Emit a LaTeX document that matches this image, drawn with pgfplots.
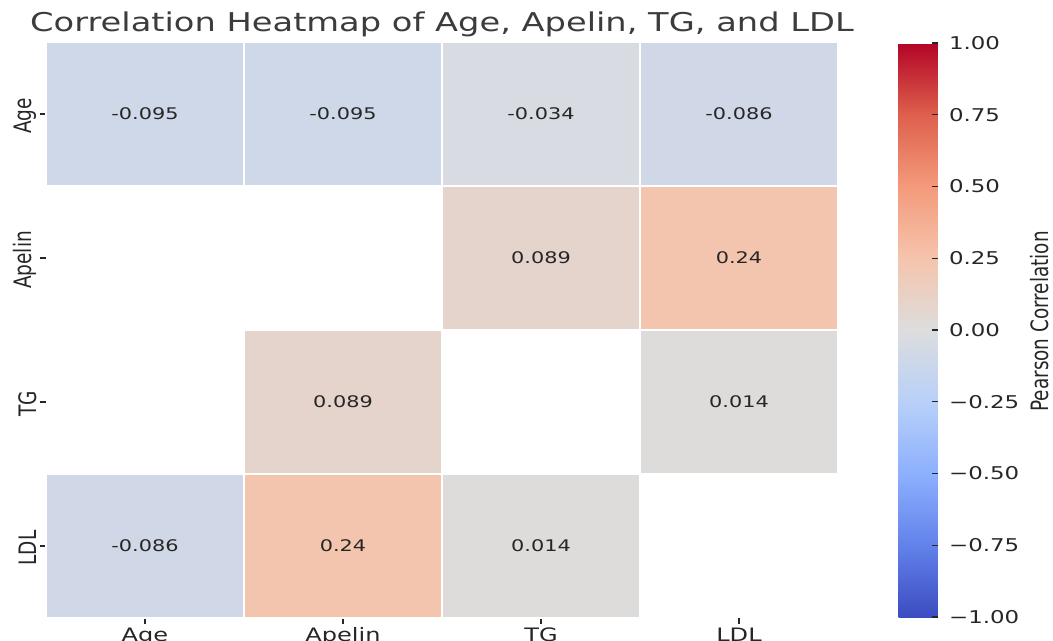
\documentclass[border=0pt]{standalone}
\usepackage{pgfplots}
\pgfplotsset{compat=1.18}
\usepackage{pgfplotstable}
\usepackage{graphicx}
\usepackage{fontspec}
\setmainfont{DejaVu Sans}[FakeStretch=1.3]
\newfontfamily\plainfont{DejaVu Sans}
\definecolor{txt}{HTML}{262626}
\pgfplotsset{colormap={coolwarm}{rgb255(0)=(59,76,192) rgb255(1)=(98,130,234) rgb255(2)=(141,176,254) rgb255(3)=(184,208,249) rgb255(4)=(221,221,221) rgb255(5)=(245,196,172) rgb255(6)=(244,154,123) rgb255(7)=(222,96,77) rgb255(8)=(180,4,38)}}

\pgfplotstableread{
x y c lbl
0 0 -0.095 -0.095
1 0 -0.095 -0.095
2 0 -0.034 -0.034
3 0 -0.086 -0.086
2 1 0.089 0.089
3 1 0.24 0.24
1 2 0.089 0.089
3 2 0.014 0.014
0 3 -0.086 -0.086
1 3 0.24 0.24
2 3 0.014 0.014
}\cells

\newcommand{\rl}[1]{\scalebox{1}[1.3]{\plainfont #1}}

\begin{document}
\begin{tikzpicture}
\begin{axis}[
  name=main,
  scale only axis,
  width=792pt, height=576pt,
  xmin=-0.5, xmax=3.5, ymin=-0.5, ymax=3.5,
  y dir=reverse,
  enlargelimits=false,
  axis line style={draw=none},
  xtick={0,1,2,3}, ytick={0,1,2,3},
  xticklabels={Age,Apelin,TG,LDL},
  yticklabels={{\rl{Age}},{\rl{Apelin}},{\rl{TG}},{\rl{LDL}}},
  xtick pos=bottom, ytick pos=left,
  tick align=outside,
  major tick length=6pt,
  tick style={txt, line width=1.1pt},
  xticklabel style={font=\fontsize{18.5}{22}\selectfont, text=txt},
  yticklabel style={font=\fontsize{18.5}{22}\selectfont, text=txt, rotate=90, anchor=south, xshift=-2pt},
  title={Correlation Heatmap of Age, Apelin, TG, and LDL},
  title style={font=\fontsize{25.9}{30}\selectfont, text=txt!90, at={(axis description cs:0.5,1)}, anchor=base, yshift=4pt},
  colormap name=coolwarm,
  point meta min=-1, point meta max=1,
  colorbar,
  colorbar/width=39pt,
  colorbar style={
    at={(parent axis.north east)}, anchor=north west,
    xshift=52pt, yshift=-1pt,
    scale only axis,
    width=39pt, height=574pt,
    axis on top,
    axis line style={draw=none},
    ytick={-1,-0.75,-0.5,-0.25,0,0.25,0.5,0.75,1},
    yticklabels={−1.00,−0.75,−0.50,−0.25,0.00,0.25,0.50,0.75,1.00},
    ytick pos=right,
    tick align=inside,
    major tick length=6pt,
    tick style={txt, line width=1.1pt},
    yticklabel style={font=\fontsize{17.6}{21}\selectfont, text=txt, anchor=west, xshift=8pt},
    ylabel={\rl{Pearson Correlation}},
    every axis y label/.style={at={(axis description cs:3.85,0.515)}, anchor=base, rotate=90, inner sep=0pt, font=\fontsize{18.4}{22}\selectfont, text=txt},
  },
]
\addplot[scatter, only marks, mark=square*,
  mark size=72pt,
  scatter/use mapped color={draw=white, fill=mapped color},
  mark options={xscale=1.375, draw=white, line width=2pt},
  point meta=explicit,
] table[x=x, y=y, meta=c] {\cells};
\addplot[only marks, mark=*, mark size=0pt, mark options={draw=none, fill=none},
  point meta=explicit symbolic,
  nodes near coords,
  nodes near coords align=center,
  every node near coord/.append style={anchor=center, text=txt, font=\fontsize{16}{19}\selectfont},
] table[x=x, y=y, meta=lbl] {\cells};
\end{axis}
\pgfresetboundingbox
\path[use as bounding box] ([xshift=-46pt,yshift=-23pt]main.south west) rectangle ([xshift=215pt,yshift=42pt]main.north east);
\end{tikzpicture}
\end{document}
